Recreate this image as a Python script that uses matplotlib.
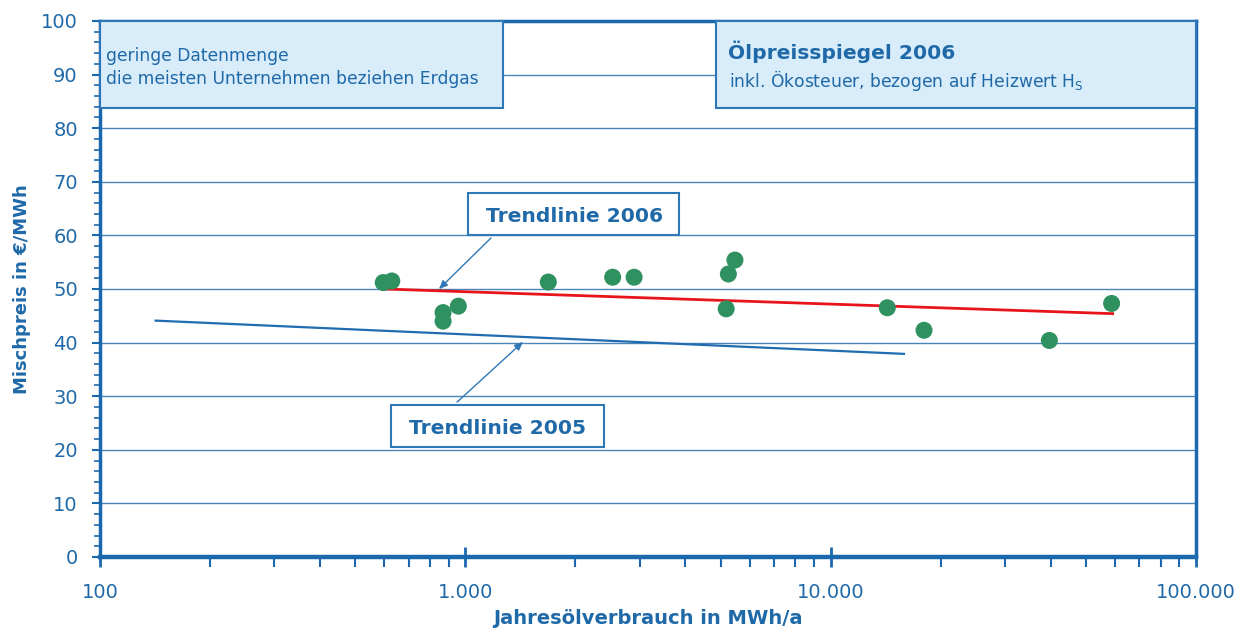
import matplotlib
matplotlib.use("Agg")
import matplotlib.pyplot as plt
from matplotlib.patches import Rectangle
from matplotlib.ticker import FixedLocator, FixedFormatter, LogLocator, MultipleLocator, NullFormatter

plt.rcParams['font.family'] = ['DejaVu Sans']
plt.rcParams['mathtext.fontset'] = 'dejavusans'

# ---- data ----
verbrauch = [596, 629, 869, 869, 957, 1687, 2531, 2897, 5248, 5470, 5176, 14290, 18010, 39680, 58750]
preis = [51.2, 51.5, 45.6, 44.0, 46.8, 51.3, 52.2, 52.2, 52.8, 55.4, 46.3, 46.5, 42.3, 40.4, 47.3]

trend2006_x = [603, 59150]
trend2006_y = [50.0, 45.4]
trend2005_x = [142, 15870]
trend2005_y = [44.1, 37.9]

x_ticks = [100, 1000, 10000, 100000]
x_ticklabels = ['100', '1.000', '10.000', '100.000']
y_ticks = [0, 10, 20, 30, 40, 50, 60, 70, 80, 90, 100]

# ---- style ----
BLUE = '#1f69a8'
SPINE = '#1b68ae'
GRID = '#4a85b8'
BOXFACE = '#d8ecf9'
BOXEDGE = '#2f78b8'
GREEN = '#2f9060'
RED = '#e8141c'
TREND05 = '#1f6cb0'

W, H = 1255, 632
fig = plt.figure(figsize=(W / 100, H / 100), dpi=100)
fig.patch.set_facecolor('white')

def fx(px):
    return px / W

def fy(py):
    return 1 - py / H

ax_l, ax_r, ax_t, ax_b = 100, 1196, 21, 557
ax = fig.add_axes([fx(ax_l), fy(ax_b), (ax_r - ax_l) / W, (ax_b - ax_t) / H])

ax.set_xscale('log')
ax.set_xlim(100, 100000)
ax.set_ylim(0, 100)

ax.grid(axis='y', which='major', color=GRID, lw=1.0, zorder=0)
ax.set_axisbelow(True)

ax.plot(trend2005_x, trend2005_y, color=TREND05, lw=1.6, zorder=3)
ax.plot(trend2006_x, trend2006_y, color=RED, lw=2.0, zorder=3)
ax.scatter(verbrauch, preis, s=150, color=GREEN, edgecolors='none', zorder=4)

# ticks
ax.xaxis.set_major_locator(FixedLocator(x_ticks))
ax.xaxis.set_major_formatter(FixedFormatter(x_ticklabels))
ax.xaxis.set_minor_locator(LogLocator(base=10, subs=range(2, 10), numticks=20))
ax.xaxis.set_minor_formatter(NullFormatter())
ax.yaxis.set_major_locator(FixedLocator(y_ticks))
ax.yaxis.set_minor_locator(MultipleLocator(2))

ax.tick_params(axis='x', which='major', direction='inout', length=14, width=2,
               color=SPINE, labelcolor=BLUE, labelsize=14, pad=12)
ax.tick_params(axis='x', which='minor', direction='out', length=7, width=1.5, color=SPINE)
ax.tick_params(axis='y', which='major', direction='out', length=6, width=1.5,
               color=SPINE, labelcolor=BLUE, labelsize=14, pad=10)
ax.tick_params(axis='y', which='minor', direction='out', length=4, width=1.2, color=SPINE)

for side, lw in [('top', 2.5), ('right', 2.5), ('bottom', 3.2), ('left', 2.5)]:
    ax.spines[side].set_color(SPINE)
    ax.spines[side].set_linewidth(lw)

ax.set_xlabel('Jahresölverbrauch in MWh/a', color=BLUE, fontsize=14, fontweight='bold')
ax.set_ylabel('Mischpreis in €/MWh', color=BLUE, fontsize=13, fontweight='bold')
ax.xaxis.set_label_coords(0.5, (ax_b - 609) / (ax_b - ax_t))
ax.yaxis.set_label_coords((31 - ax_l) / (ax_r - ax_l), 0.5)

# ---- info boxes at top ----
def box(x0, y0, x1, y1, face, edge, lw):
    r = Rectangle((fx(x0), fy(y1)), fx(x1) - fx(x0), fy(y0) - fy(y1),
                  transform=fig.transFigure, facecolor=face, edgecolor=edge,
                  lw=lw, zorder=5)
    fig.patches.append(r)

box(100, 21, 503, 108, BOXFACE, BOXEDGE, 1.5)
box(716, 21, 1196, 108, BOXFACE, BOXEDGE, 1.5)

fig.text(fx(106), fy(61), 'geringe Datenmenge', color=BLUE, fontsize=12.3,
         va='baseline', ha='left', zorder=6)
fig.text(fx(106), fy(84), 'die meisten Unternehmen beziehen Erdgas', color=BLUE,
         fontsize=12.3, va='baseline', ha='left', zorder=6)
fig.text(fx(728), fy(59), 'Ölpreisspiegel 2006', color=BLUE, fontsize=14.6,
         fontweight='bold', va='baseline', ha='left', zorder=6)
fig.text(fx(729), fy(87), r'inkl. Ökosteuer, bezogen auf Heizwert H$_\mathrm{S}$',
         color=BLUE, fontsize=12.3, va='baseline', ha='left', zorder=6)

# ---- trend line labels ----
box(468, 193, 679, 235, 'white', BOXEDGE, 1.5)
fig.text(fx(575), fy(222), 'Trendlinie 2006', color=BLUE, fontsize=14.6,
         fontweight='bold', va='baseline', ha='center', zorder=6)
box(391, 405, 604, 447, 'white', BOXEDGE, 1.5)
fig.text(fx(497), fy(434), 'Trendlinie 2005', color=BLUE, fontsize=14.6,
         fontweight='bold', va='baseline', ha='center', zorder=6)

arrow_kw = dict(arrowstyle='-|>,head_length=0.5,head_width=0.22', color=BOXEDGE, lw=1.0)
ax.annotate('', xy=(fx(437), fy(291)), xycoords='figure fraction',
            xytext=(fx(493), fy(236)), textcoords='figure fraction',
            arrowprops=arrow_kw, zorder=6)
ax.annotate('', xy=(fx(525), fy(340)), xycoords='figure fraction',
            xytext=(fx(455), fy(404)), textcoords='figure fraction',
            arrowprops=arrow_kw, zorder=6)

fig.savefig('out.png', dpi=100)
